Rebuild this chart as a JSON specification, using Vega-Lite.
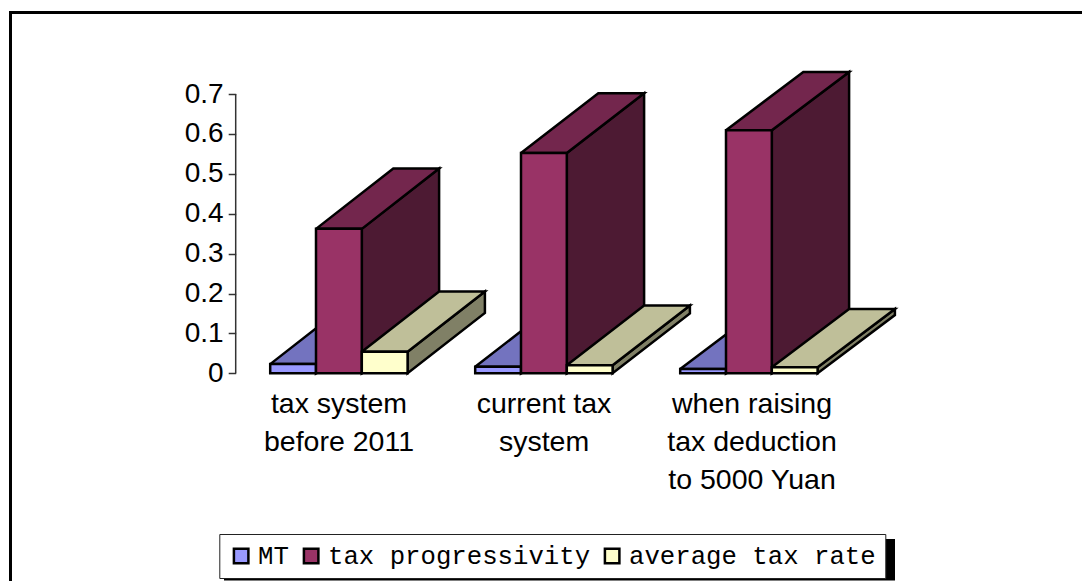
{
"$schema":"https://vega.github.io/schema/vega-lite/v6.json",
"width":1082,"height":581,"padding":0,"autosize":{"type":"none"},"background":"#ffffff",
"config":{"view":{"stroke":null},"font":"Liberation Sans"},
"datasets":{"bars":[
{"system":"tax system\nbefore 2011","series":"MT","value":0.023},
{"system":"tax system\nbefore 2011","series":"tax progressivity","value":0.362},
{"system":"tax system\nbefore 2011","series":"average tax rate","value":0.054},
{"system":"current tax\nsystem","series":"MT","value":0.0165},
{"system":"current tax\nsystem","series":"tax progressivity","value":0.552},
{"system":"current tax\nsystem","series":"average tax rate","value":0.02},
{"system":"when raising\ntax deduction\nto 5000 Yuan","series":"MT","value":0.011},
{"system":"when raising\ntax deduction\nto 5000 Yuan","series":"tax progressivity","value":0.609},
{"system":"when raising\ntax deduction\nto 5000 Yuan","series":"average tax rate","value":0.015}
]},
"data":{"name":"bars"},
"transform":[
{"calculate":"indexof(['tax system\\nbefore 2011','current tax\\nsystem','when raising\\ntax deduction\\nto 5000 Yuan'],datum.system)","as":"g"},
{"calculate":"indexof(['MT','tax progressivity','average tax rate'],datum.series)","as":"s"},
{"calculate":"270.2+205*datum.g+45.8*datum.s","as":"x0"},
{"calculate":"datum.x0+45.8","as":"x1"},
{"calculate":"[0.1511,0.15,0.146][datum.g]","as":"dy"}
],
"layer":[
{"data":{"values":[{"part":"axis"}]},"mark":{"type":"rule","stroke":"#333333","strokeWidth":1.5},
 "encoding":{"x":{"datum":235.7,"type":"quantitative","scale":{"domain":[0,1082],"nice":false,"zero":false},"axis":null},
 "y":{"datum":0,"type":"quantitative","scale":{"domain":[-0.52055,0.93559],"nice":false,"zero":false},
  "axis":{"title":null,"values":[0,0.1,0.2,0.3,0.4,0.5,0.6,0.7],"format":".1~f","domain":false,"grid":false,"offset":-235.7,"tickSize":7.5,"tickColor":"#333333","tickWidth":1.5,"labelFont":"Liberation Sans","labelFontSize":28,"labelColor":"#000000","labelPadding":5}},
 "y2":{"datum":0.7}}},
{"data":{"values":[{"part":"frame"}]},"mark":{"type":"rule","stroke":"#000000","strokeWidth":3,"strokeCap":"square"},
 "encoding":{"x":{"datum":10.5,"type":"quantitative","scale":{"domain":[0,1082],"nice":false,"zero":false}},"x2":{"datum":1082},
 "y":{"datum":0.9043,"type":"quantitative","scale":{"domain":[-0.52055,0.93559],"nice":false,"zero":false}}}},
{"data":{"values":[{"part":"frame"}]},"mark":{"type":"rule","stroke":"#000000","strokeWidth":3,"strokeCap":"square"},
 "encoding":{"x":{"datum":10.5,"type":"quantitative","scale":{"domain":[0,1082],"nice":false,"zero":false}},
 "y":{"datum":0.9043,"type":"quantitative","scale":{"domain":[-0.52055,0.93559],"nice":false,"zero":false}},"y2":{"datum":-0.52055}}},
{"data":{"values":[{"part":"legend shadow"}]},"mark":{"type":"rect","fill":"#000000"},
 "encoding":{"x":{"datum":224,"type":"quantitative","scale":{"domain":[0,1082],"nice":false,"zero":false}},"x2":{"datum":895},
 "y":{"datum":-0.4153,"type":"quantitative","scale":{"domain":[-0.52055,0.93559],"nice":false,"zero":false}},"y2":{"datum":-0.5193}}},
{"transform":[
 {"calculate":"['side','top']","as":"face"},{"flatten":["face"]},
 {"calculate":"[0,1,2,3,4]","as":"k"},{"flatten":["k"]},
 {"calculate":"datum.series+'|'+datum.face","as":"key"},
 {"calculate":"datum.system+datum.key","as":"poly"},
 {"calculate":"datum.face=='top'?[datum.x0,datum.x1,datum.x1+77.3,datum.x0+77.3,datum.x0][datum.k]:[datum.x1,datum.x1+77.3,datum.x1+77.3,datum.x1,datum.x1][datum.k]","as":"vx"},
 {"calculate":"datum.face=='top'?[datum.value,datum.value,datum.value+datum.dy,datum.value+datum.dy,datum.value][datum.k]:[datum.value,datum.value+datum.dy,datum.dy,0,datum.value][datum.k]","as":"vy"}
 ],
 "mark":{"type":"line","stroke":"#000000","strokeWidth":2.5,"strokeJoin":"miter"},
 "encoding":{
 "x":{"field":"vx","type":"quantitative","scale":{"domain":[0,1082],"nice":false,"zero":false}},
 "y":{"field":"vy","type":"quantitative","scale":{"domain":[-0.52055,0.93559],"nice":false,"zero":false}},
 "detail":{"field":"poly"},
 "order":{"field":"k"},
 "fill":{"field":"key","type":"nominal","legend":null,"scale":{"domain":["MT|side","MT|top","tax progressivity|side","tax progressivity|top","average tax rate|side","average tax rate|top"],"range":["#4d4d80","#7373bf","#4d1a33","#73264d","#808066","#bfbf99"]}}
 }},
{"mark":{"type":"rect","stroke":"#000000","strokeWidth":2.5},
 "encoding":{
 "x":{"field":"x0","type":"quantitative","scale":{"domain":[0,1082],"nice":false,"zero":false}},"x2":{"field":"x1"},
 "y":{"field":"value","type":"quantitative","scale":{"domain":[-0.52055,0.93559],"nice":false,"zero":false}},"y2":{"datum":0},
 "color":{"field":"series","type":"nominal","scale":{"domain":["MT","tax progressivity","average tax rate"],"range":["#9999ff","#993366","#ffffcc"]},
  "legend":{"title":null,"orient":"none","legendX":219.3,"legendY":534,"direction":"horizontal","columns":3,"fillColor":"#ffffff","strokeColor":"#222222","padding":9,"symbolType":"square","symbolSize":210,"symbolStrokeColor":"#000000","symbolStrokeWidth":2.5,"symbolOpacity":1,"labelFont":"Liberation Mono","labelFontSize":25.7,"labelColor":"#000000","labelLimit":600,"labelOffset":4,"columnPadding":9,"rowPadding":0}}
 }},
{"transform":[{"filter":"datum.s==1"},{"calculate":"339+205*datum.g+(datum.g==2?3:0)","as":"lx"}],
 "mark":{"type":"text","font":"Liberation Sans","fontSize":28.5,"lineBreak":"\n","lineHeight":38,"baseline":"top","align":"center","color":"#000000"},
 "encoding":{
 "x":{"field":"lx","type":"quantitative","scale":{"domain":[0,1082],"nice":false,"zero":false}},
 "y":{"datum":-0.0425,"type":"quantitative","scale":{"domain":[-0.52055,0.93559],"nice":false,"zero":false}},
 "text":{"field":"system"}
 }}
]
}
